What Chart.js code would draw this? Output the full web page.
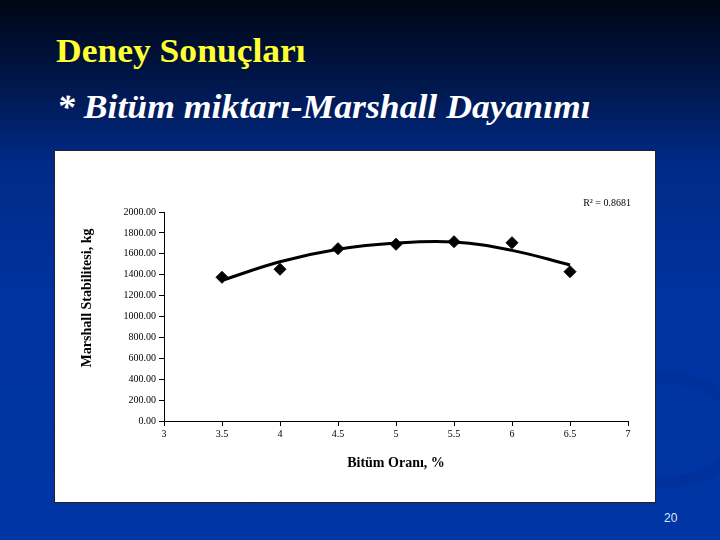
<!DOCTYPE html>
<html lang="tr">
<head>
<meta charset="UTF-8">
<title>Deney Sonuçları</title>
<script src="https://cdn.jsdelivr.net/npm/chart.js"></script>
<style>
  body { margin: 0; }
  #slide {
    position: relative; width: 720px; height: 540px; overflow: hidden;
    background: linear-gradient(to bottom, #000614 0%, #001a55 18%, #002a86 30%, #0033a0 55%, #0035a5 100%);
  }
  #swoosh {
    position: absolute; left: 590px; top: 372px; width: 130px; height: 92px;
    border-radius: 50%; border: 12px solid rgba(0, 25, 100, 0.10);
    border-left-color: transparent;
  }
  #title {
    position: absolute; left: 56px; top: 34px; margin: 0; line-height: 1;
    font-family: "Liberation Serif", "DejaVu Serif", serif;
    font-weight: bold; font-size: 34px; color: #ffff33;
    transform: scaleX(1.045); transform-origin: left top; white-space: nowrap;
  }
  #subtitle {
    position: absolute; left: 57px; top: 91px; margin: 0; line-height: 1;
    font-family: "Liberation Serif", "DejaVu Serif", serif;
    font-style: italic; font-weight: bold; font-size: 33px; color: #ffffff;
    transform: scaleX(1.08); transform-origin: left top; white-space: nowrap;
  }
  #box {
    position: absolute; left: 54px; top: 150px; width: 600px; height: 351px;
    background: #fff; border: 1px solid #222;
  }
  #pagenum {
    position: absolute; left: 664px; top: 511px;
    font: 12px "Liberation Sans", sans-serif; color: #dde6ff;
  }
</style>
</head>
<body>
<div id="slide">
  <div id="swoosh"></div>
  <h1 id="title">Deney Sonuçları</h1>
  <h2 id="subtitle">* Bitüm miktarı-Marshall Dayanımı</h2>
  <div id="box"><canvas id="chart" width="600" height="351"></canvas></div>
  <div id="pagenum">20</div>
</div>
<script>
  // bitumen content (%) and measured Marshall stability (kg)
  var bitumen = [3.5, 4, 4.5, 5, 5.5, 6, 6.5];
  var stability = [1375, 1452, 1649, 1691, 1716, 1706, 1429];
  // polynomial trendline
  var trend = [1346, 1524, 1643, 1703, 1713, 1633, 1493];
  var r2Label = 'R² = 0.8681';
  var yTitle = 'Marshall Stabilitesi, kg';

  var serif = '"Liberation Serif", "Times New Roman", serif';

  // R² text and the y title (the y title sits above the axis centre in the original)
  var labelsPlugin = {
    id: 'labels',
    afterDraw: function (chart) {
      var ctx = chart.ctx;
      ctx.save();
      ctx.fillStyle = '#000';
      ctx.font = '10px ' + serif;
      ctx.textAlign = 'right';
      ctx.textBaseline = 'middle';
      ctx.fillText(r2Label, 576, 52);

      ctx.translate(32, 147);
      ctx.rotate(-Math.PI / 2);
      ctx.font = 'bold 14px ' + serif;
      ctx.textAlign = 'center';
      ctx.fillText(yTitle, 0, 0);
      ctx.restore();
    }
  };

  new Chart(document.getElementById('chart'), {
    type: 'scatter',
    data: {
      datasets: [
        {
          type: 'line',
          label: 'trend',
          data: bitumen.map((x, i) => ({ x: x, y: trend[i] })),
          borderColor: '#000',
          borderWidth: 3,
          pointRadius: 0,
          fill: false,
          tension: 0.4
        },
        {
          label: 'Marshall',
          data: bitumen.map((x, i) => ({ x: x, y: stability[i] })),
          pointStyle: 'rectRot',
          pointRadius: 6,
          backgroundColor: '#000',
          borderColor: '#000'
        }
      ]
    },
    options: {
      responsive: false,
      animation: false,
      layout: { padding: { left: 24, right: 27, top: 61, bottom: 30 } },
      plugins: { legend: { display: false }, tooltip: { enabled: false } },
      scales: {
        x: {
          type: 'linear', min: 3, max: 7,
          afterFit: function (s) { s.height = 51; },
          ticks: {
            stepSize: 0.5, color: '#000', padding: 2, maxRotation: 0,
            font: { family: serif, size: 10 },
            callback: function (v) { return String(v); }
          },
          grid: { drawOnChartArea: false, tickLength: 5, color: '#000' },
          border: { color: '#000', width: 1 },
          title: {
            display: true, text: 'Bitüm Oranı, %', color: '#000',
            font: { family: serif, size: 14, weight: 'bold' }, padding: 0
          }
        },
        y: {
          min: 0, max: 2000,
          afterFit: function (s) { s.width = 85; },
          ticks: {
            stepSize: 200, color: '#000', padding: 3,
            font: { family: serif, size: 10 },
            callback: function (v) { return v.toFixed(2); }
          },
          grid: { drawOnChartArea: false, tickLength: 5, color: '#000' },
          border: { color: '#000', width: 1 }
        }
      }
    },
    plugins: [labelsPlugin]
  });
</script>
</body>
</html>
